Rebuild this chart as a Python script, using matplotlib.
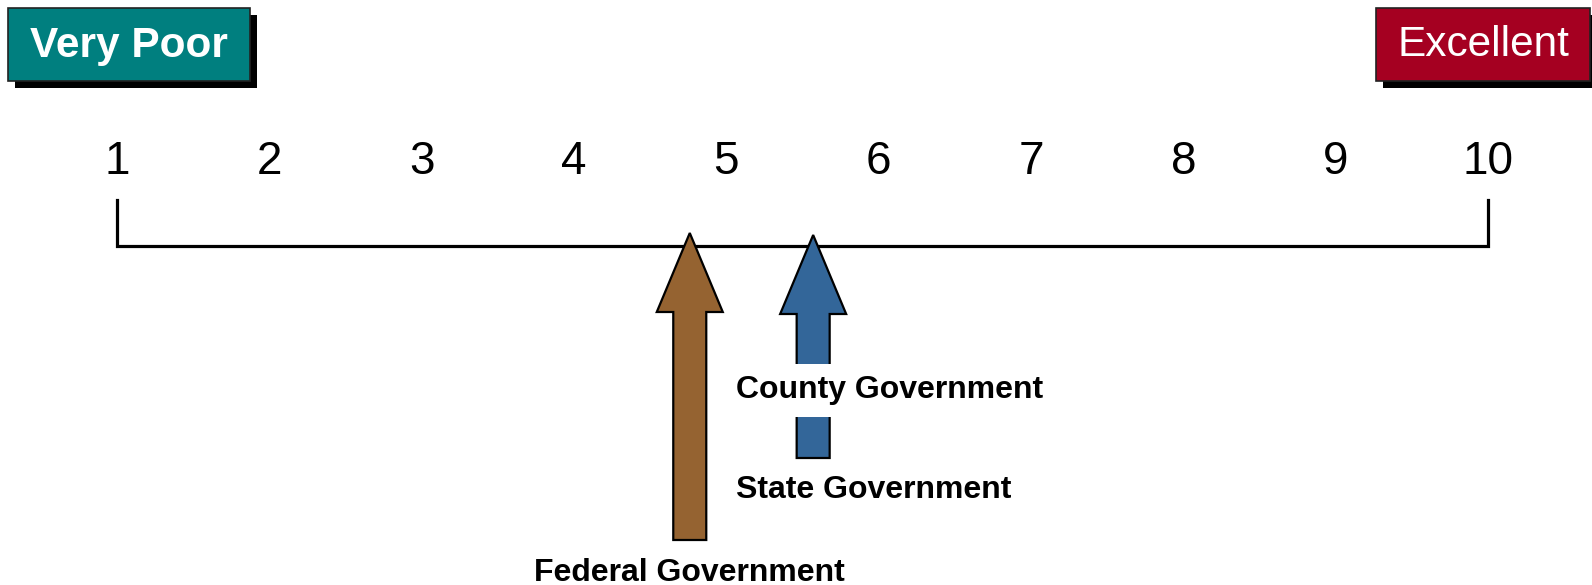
import matplotlib
matplotlib.use("Agg")
import matplotlib.pyplot as plt
from matplotlib.patches import Rectangle, Polygon

# ---- data ----
scale_values = [1, 2, 3, 4, 5, 6, 7, 8, 9, 10]
scale_labels = ["1", "2", "3", "4", "5", "6", "7", "8", "9", "10"]
low_label = "Very Poor"
high_label = "Excellent"
arrow_names = ["Federal Government", "County / State Government"]
arrow_values = [4.76, 5.57]
arrow_colors = ["#956331", "#336699"]

W, H, DPI = 1592, 585, 100
fig = plt.figure(figsize=(W / DPI, H / DPI), dpi=DPI)
plt.rcParams['font.family'] = ['Liberation Sans', 'DejaVu Sans']

# main axes: x in scale units, y in pixel units (top-down)
x_left_px, x_right_px = 117, 1488
ppu = (x_right_px - x_left_px) / (scale_values[-1] - scale_values[0])
ax = fig.add_axes([0, 0, 1, 1])
ax.set_xlim(scale_values[0] - x_left_px / ppu, scale_values[-1] + (W - x_right_px) / ppu)
ax.set_ylim(H, 0)
ax.axis("off")

def px(dx):
    return dx / ppu

# scale line with end ticks
line_y, tick_top = 246, 200
ax.plot([scale_values[0], scale_values[0], scale_values[-1], scale_values[-1]],
        [tick_top, line_y, line_y, tick_top], color="black", lw=2.3,
        solid_joinstyle="miter", zorder=2)

for v, lab in zip(scale_values, scale_labels):
    ax.text(v, 174, lab, fontsize=33, ha="center", va="baseline", color="black")

# arrows
def up_arrow(xv, tip_y, bottom_y, color):
    hw, sw, head_base = 33, 16.5, tip_y + 79
    verts = [(xv, tip_y), (xv + px(hw), head_base), (xv + px(sw), head_base),
             (xv + px(sw), bottom_y), (xv - px(sw), bottom_y), (xv - px(sw), head_base),
             (xv - px(hw), head_base)]
    ax.add_patch(Polygon(verts, closed=True, facecolor=color, edgecolor="black",
                         lw=1.6, joinstyle="miter", zorder=3))

up_arrow(arrow_values[0], 233, 540, arrow_colors[0])
up_arrow(arrow_values[1], 235, 458, arrow_colors[1])

lab_fs = 23
ax.text(arrow_values[0], 581, "Federal Government", fontsize=lab_fs, fontweight="bold",
        ha="center", va="baseline", zorder=5)
ax.text(arrow_values[1] - px(77), 398, "County Government", fontsize=lab_fs, fontweight="bold",
        ha="left", va="baseline", zorder=5,
        bbox=dict(boxstyle="square,pad=0.36", facecolor="white", edgecolor="none"))
ax.text(arrow_values[1] - px(77), 498, "State Government", fontsize=lab_fs, fontweight="bold",
        ha="left", va="baseline", zorder=5)

# overlay axes in pixel coords for the end boxes
axp = fig.add_axes([0, 0, 1, 1])
axp.set_xlim(0, W)
axp.set_ylim(H, 0)
axp.axis("off")

def label_box(x0, y0, x1, y1, color, text, weight, fs):
    axp.add_patch(Rectangle((x0 + 7, y0 + 7), x1 - x0, y1 - y0, facecolor="black",
                            edgecolor="none", zorder=1))
    axp.add_patch(Rectangle((x0, y0), x1 - x0, y1 - y0, facecolor=color,
                            edgecolor="#222222", lw=1.2, zorder=2))
    axp.text((x0 + x1) / 2, (y0 + y1) / 2 + 1, text, color="white", fontsize=fs,
             fontweight=weight, ha="center", va="center", zorder=3)

label_box(8, 8, 250, 81, "#007F7F", low_label, "bold", 30.5)
label_box(1376, 8, 1590, 81, "#A50021", high_label, "normal", 30.5)

fig.savefig("out.png", dpi=DPI)
